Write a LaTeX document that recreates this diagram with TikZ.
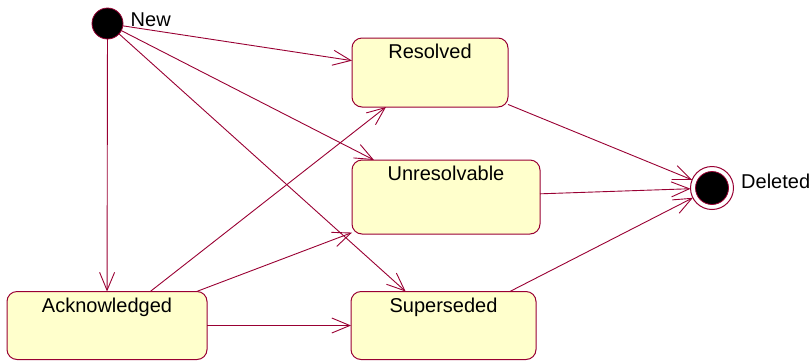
\documentclass[tikz,border=0pt]{standalone}
\usepackage{fontspec}
\setmainfont{Liberation Sans}
\usetikzlibrary{arrows.meta}
\definecolor{umlline}{HTML}{990033}
\definecolor{umlfill}{HTML}{FFFFCC}
\begin{document}
\begin{tikzpicture}[x=1pt,y=-1pt,
  statebox/.style={draw=umlline, fill=umlfill, line width=1pt, rounded corners=10pt,
    inner sep=0pt, outer sep=0pt},
  statetext/.style={anchor=north, font=\fontsize{20}{24}\selectfont, inner sep=6.3pt},
  startdot/.style={circle, draw=umlline, fill=black, line width=0.8pt, minimum size=31pt,
    inner sep=0pt, outer sep=0pt},
  enddot/.style={circle, draw=umlline, fill=white, line width=1pt, minimum size=43pt,
    inner sep=0pt, outer sep=0pt},
  tag/.style={font=\fontsize{20}{24}\selectfont, inner sep=0pt, anchor=base west},
  trans/.style={draw=umlline, line width=0.9pt,
    -{Straight Barb[length=18pt,width=15pt,line width=0.9pt]}}
]
\useasboundingbox (0,0) rectangle (809,360);

% states
\node[statebox, minimum width=156pt, minimum height=69pt,
  label={[statetext]north:Resolved}] (res) at (430,72.5) {};
\node[statebox, minimum width=188pt, minimum height=74pt,
  label={[statetext]north:Unresolvable}] (unr) at (446,197) {};
\node[statebox, minimum width=185pt, minimum height=68pt,
  label={[statetext]north:Superseded}] (sup) at (443.5,325.5) {};
\node[statebox, minimum width=200pt, minimum height=68pt,
  label={[statetext]north:Acknowledged}] (ack) at (107,325.5) {};

% initial and final pseudo-states
\node[startdot] (new) at (107.5,23.5) {};
\node[tag] (newlbl) at (130.5,26.7) {New};
\node[enddot] (del) at (712,188) {};
\node[circle, draw=umlline, fill=black, line width=0.8pt, minimum size=33pt,
  inner sep=0pt] (delcore) at (del.center) {};
\node[tag] (dellbl) at (741,188) {Deleted};

% transitions
\draw[trans] (new) -- (res);
\draw[trans] (new) -- (unr);
\draw[trans] (new) -- (sup);
\draw[trans] (new) -- (ack);
\draw[trans] (ack) -- (res);
\draw[trans] (ack) -- (unr);
\draw[trans] (ack) -- (sup);
\draw[trans] (res) -- (del);
\draw[trans] (unr) -- (del);
\draw[trans] (sup) -- (del);
\end{tikzpicture}
\end{document}
